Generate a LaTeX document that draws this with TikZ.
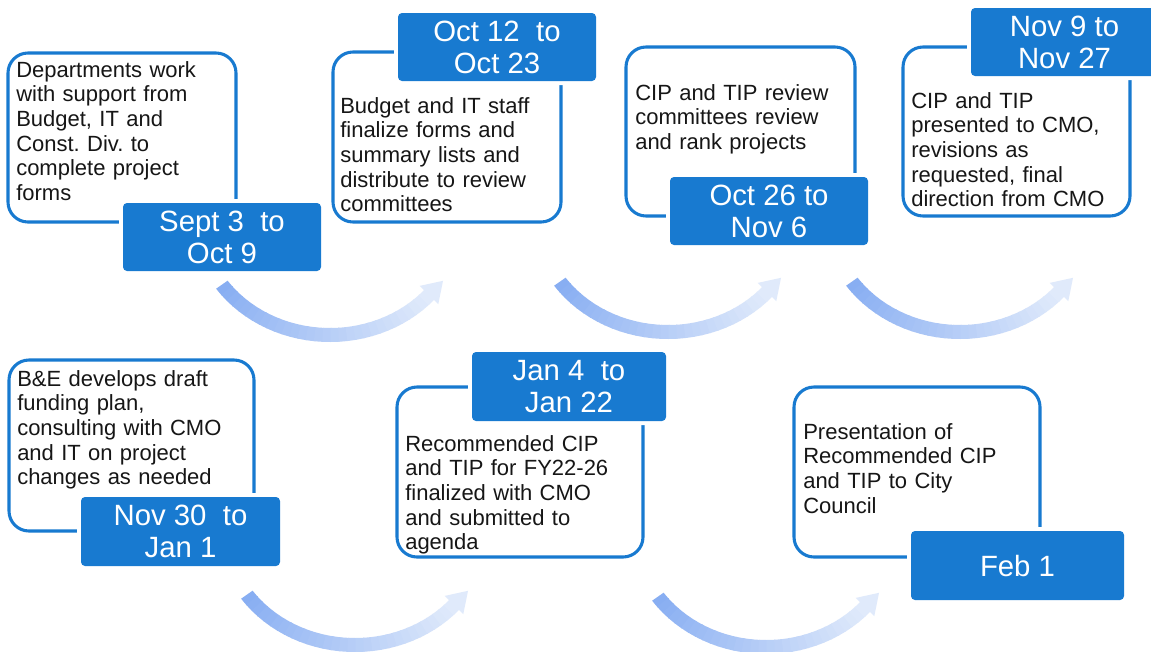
\documentclass[tikz,border=0pt]{standalone}
\usepackage{fontspec}
\setmainfont{Liberation Sans}
\usetikzlibrary{fit}
\definecolor{boxblue}{RGB}{24,122,208}
\definecolor{arrL}{RGB}{136,174,242}
\definecolor{arrR}{RGB}{224,234,251}
\definecolor{txt}{RGB}{22,22,22}
\frenchspacing
\begin{document}
\begin{tikzpicture}[x=0.75pt,y=-0.75pt,
  wbox/.style={draw=boxblue, line width=2.3pt, fill=white, rounded corners=15pt, inner sep=0pt},
  dbox/.style={fill=boxblue, rounded corners=3pt, inner sep=0pt,
    preaction={draw=white, line width=6pt}},
  dtext/.style={inner sep=0pt, text=white, align=center,
    font=\fontsize{22}{24}\selectfont},
  btext/.style={anchor=base west, inner sep=0pt, text width=200pt, align=left,
    text=txt, font=\fontsize{16.5}{18.5}\selectfont},
  curvarr/.pic={
    \foreach \i in {0,...,29}{
      \pgfmathsetmacro\sa{145-\i*3.4533}
      \pgfmathsetmacro\ea{\sa-3.9533}
      \pgfmathtruncatemacro\pc{100-\i*100/29}
      \fill[arrL!\pc!arrR]
        (\sa:139 and 125) arc[start angle=\sa, end angle=\ea, x radius=139, y radius=125]
        -- (\ea:125 and 111) arc[start angle=\ea, end angle=\sa, x radius=125, y radius=111]
        -- cycle;
    }
    \fill[arrR] (108.3,87.1) -- (113,63.8) -- (89.7,68.9) -- cycle;
  }]
\clip (0,0) rectangle (1151,651);
\fill[white] (0,0) rectangle (1151,651);

% curved arrows
\coordinate (c1) at (330,217);
\coordinate (c2) at (668,214);
\coordinate (c3) at (960,214);
\coordinate (c4) at (355,527);
\coordinate (c5) at (766,529);
\pic (arr1) at (c1) {curvarr};
\pic (arr2) at (c2) {curvarr};
\pic (arr3) at (c3) {curvarr};
\pic (arr4) at (c4) {curvarr};
\pic (arr5) at (c5) {curvarr};

% step 1
\node[wbox, fit={(8,53) (236,222)}] (b1) {};
\node[btext] (t1) at (16,77) {Departments work\\with support from\\Budget, IT and\\Const. Div. to\\complete project\\forms};
\node[dbox, fit={(123,203) (321,271)}] (d1) {};
\node[dtext] (e1) at (d1.center) {Sept 3\ \ to\\Oct 9};

% step 2
\node[wbox, fit={(333,52) (561,222)}] (b2) {};
\node[btext] (t2) at (340,113) {Budget and IT staff\\finalize forms and\\summary lists and\\distribute to review\\committees};
\node[dbox, fit={(398,13) (596,81)}] (d2) {};
\node[dtext] (e2) at (d2.center) {Oct 12\ \ to\\Oct 23};

% step 3
\node[wbox, fit={(626,47) (855,216)}] (b3) {};
\node[btext] (t3) at (635,100) {CIP and TIP review\\committees review\\and rank projects};
\node[dbox, fit={(670,177) (868,245)}] (d3) {};
\node[dtext] (e3) at (d3.center) {Oct 26 to\\Nov 6};

% step 4
\node[wbox, fit={(903,47) (1130,216)}] (b4) {};
\node[btext] (t4) at (911,108) {CIP and TIP\\presented to CMO,\\revisions as\\requested, final\\direction from CMO};
\node[dbox, fit={(971,8) (1158,76)}] (d4) {};
\node[dtext] (e4) at (d4.center) {Nov 9 to\\Nov 27};

% step 5
\node[wbox, fit={(9,360) (254,531)}] (b5) {};
\node[btext] (t5) at (17,386) {B\&E develops draft\\funding plan,\\consulting with CMO\\and IT on project\\changes as needed};
\node[dbox, fit={(81,497) (280,566)}] (d5) {};
\node[dtext] (e5) at (d5.center) {Nov 30\ \ to\\Jan 1};

% step 6
\node[wbox, fit={(397,387) (643,557)}] (b6) {};
\node[btext] (t6) at (405,451) {Recommended CIP\\and TIP for FY22-26\\finalized with CMO\\and submitted to\\agenda};
\node[dbox, fit={(472,352) (666,421)}] (d6) {};
\node[dtext] (e6) at (d6.center) {Jan 4\ \ to\\Jan 22};

% step 7
\node[wbox, fit={(794,387) (1040,557)}] (b7) {};
\node[btext] (t7) at (803,439) {Presentation of\\Recommended CIP\\and TIP to City\\Council};
\node[dbox, fit={(911,531) (1124,600)}] (d7) {};
\node[dtext] (e7) at (d7.center) {Feb 1};
\end{tikzpicture}
\end{document}
